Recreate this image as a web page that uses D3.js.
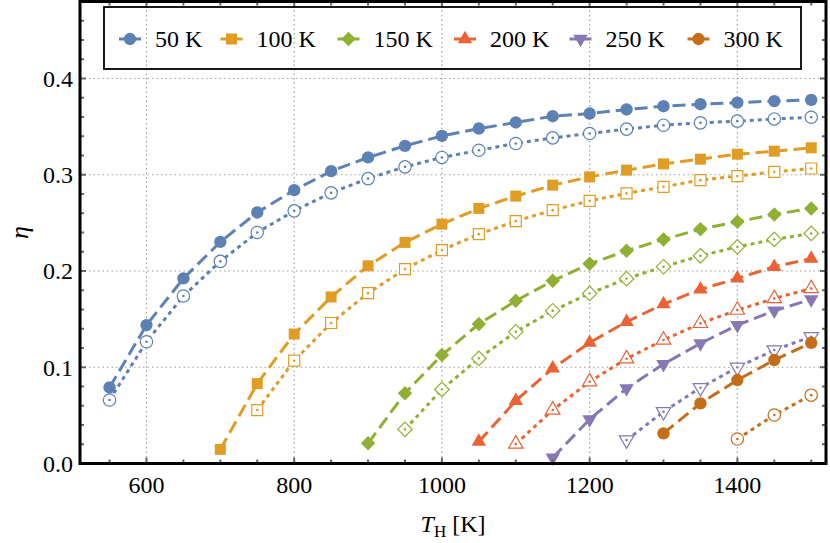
<!DOCTYPE html>
<meta charset="utf-8">
<script src="https://d3js.org/d3.v7.min.js"></script>
<style>
  body { margin: 0; background: #fff; }
  svg text { font-family: "Liberation Serif", "DejaVu Serif", "Times New Roman", Times, serif; }
</style>
<div id="my_dataviz"></div>
<script>

// hot reservoir temperatures (K)
var tHot = [550, 600, 650, 700, 750, 800, 850, 900, 950, 1000,
            1050, 1100, 1150, 1200, 1250, 1300, 1350, 1400, 1450, 1500];

var seriesNames = ["50 K", "100 K", "150 K", "200 K", "250 K", "300 K"];

// filled markers, dashed lines
var eta50  = [0.079, 0.1438, 0.1923, 0.2303, 0.2608, 0.284, 0.3037, 0.318, 0.330, 0.3404,
              0.348, 0.3543, 0.3608, 0.3636, 0.3678, 0.3712, 0.3733, 0.3750, 0.3765, 0.3778];
var eta100 = [null, null, null, 0.0147, 0.083, 0.1345, 0.173, 0.2054, 0.2297, 0.2487,
              0.265, 0.2778, 0.2892, 0.2978, 0.3048, 0.3113, 0.3162, 0.3214, 0.3245, 0.328];
var eta150 = [null, null, null, null, null, null, null, 0.021, 0.073, 0.1127,
              0.1449, 0.169, 0.1898, 0.2075, 0.221, 0.2328, 0.2435, 0.2511, 0.2588, 0.265];
var eta200 = [null, null, null, null, null, null, null, null, null, null,
              0.0227, 0.0652, 0.0988, 0.1255, 0.1473, 0.1656, 0.1809, 0.1923, 0.2044, 0.213];
var eta250 = [null, null, null, null, null, null, null, null, null, null,
              null, null, 0.006, 0.0459, 0.078, 0.1033, 0.1248, 0.1438, 0.1587, 0.1705];
var eta300 = [null, null, null, null, null, null, null, null, null, null,
              null, null, null, null, null, 0.0313, 0.0625, 0.0867, 0.1075, 0.1254];

// open markers, dotted lines
var eta50o  = [0.066, 0.1265, 0.174, 0.210, 0.240, 0.2625, 0.2812, 0.296, 0.3082, 0.318,
               0.3255, 0.3325, 0.3383, 0.3429, 0.3474, 0.3515, 0.3539, 0.3557, 0.358, 0.3597];
var eta100o = [null, null, null, null, 0.0555, 0.1068, 0.146, 0.177, 0.202, 0.2217,
               0.2383, 0.2518, 0.2632, 0.2729, 0.2806, 0.2875, 0.2944, 0.2986, 0.303, 0.3065];
var eta150o = [null, null, null, null, null, null, null, null, 0.0355, 0.077,
               0.1092, 0.1369, 0.1587, 0.1767, 0.192, 0.2044, 0.2158, 0.2251, 0.2328, 0.239];
var eta200o = [null, null, null, null, null, null, null, null, null, null,
               null, 0.0203, 0.0556, 0.085, 0.1089, 0.1283, 0.1456, 0.1594, 0.1715, 0.1819];
var eta250o = [null, null, null, null, null, null, null, null, null, null,
               null, null, null, null, 0.0244, 0.0538, 0.0787, 0.0999, 0.1179, 0.1317];
var eta300o = [null, null, null, null, null, null, null, null, null, null,
               null, null, null, null, null, null, null, 0.0254, 0.0504, 0.071];

var xTicks = [600, 800, 1000, 1200, 1400];
var yTicks = [0.0, 0.1, 0.2, 0.3, 0.4];

var filledSeries = [eta50, eta100, eta150, eta200, eta250, eta300];
var openSeries = [eta50o, eta100o, eta150o, eta200o, eta250o, eta300o];

var colors = ["#5E81B5", "#E19C24", "#8FB032", "#EB6235", "#8778B3", "#C56E1A"];
var serif = "'Liberation Serif', 'DejaVu Serif', serif";

// frame
var margin = {top: 1.5, right: 4, bottom: 79.5, left: 80},
    W = 830, H = 543,
    width = W - margin.left - margin.right,
    height = H - margin.top - margin.bottom;

var root = d3.select("#my_dataviz")
  .append("svg")
    .attr("width", W)
    .attr("height", H)
    .attr("font-family", serif);
var svg = root.append("g")
    .attr("transform", "translate(" + margin.left + "," + margin.top + ")");

var x = d3.scaleLinear().domain([510, 1520]).range([0, width]);
var y = d3.scaleLinear().domain([0, 0.48]).range([height, 0]);

// grid lines
svg.append("g").selectAll("line")
  .data(xTicks)
  .join("line")
    .attr("x1", d => x(d)).attr("x2", d => x(d))
    .attr("y1", 0).attr("y2", height)
    .attr("stroke", "#a0a0a0").attr("stroke-width", 1.2)
    .attr("stroke-dasharray", "1.5,3");
svg.append("g").selectAll("line")
  .data(yTicks.slice(1))
  .join("line")
    .attr("x1", 0).attr("x2", width)
    .attr("y1", d => y(d)).attr("y2", d => y(d))
    .attr("stroke", "#a0a0a0").attr("stroke-width", 1.2)
    .attr("stroke-dasharray", "1.5,3");

// marker shapes
function markerPath(k) {
  if (k == 0) return d3.symbol(d3.symbolCircle, 120)();
  if (k == 1) return d3.symbol(d3.symbolSquare, 121)();
  if (k == 2) return d3.symbol(d3.symbolSquare, 105)();
  if (k == 3 || k == 4) return d3.symbol(d3.symbolTriangle, 90)();
  return d3.symbol(d3.symbolCircle, 120)();
}
function markerRot(k) {
  if (k == 2) return 45;
  if (k == 4) return 180;
  return 0;
}

var line = d3.line()
  .defined(d => d.v != null)
  .x(d => x(d.t))
  .y(d => y(d.v));

function pts(arr) {
  return arr.map((v, i) => ({t: tHot[i], v: v}));
}

// open (dotted) series first, then filled (dashed)
openSeries.forEach(function(arr, k) {
  var data = pts(arr);
  svg.append("path")
    .datum(data)
    .attr("d", line)
    .attr("fill", "none")
    .attr("stroke", colors[k])
    .attr("stroke-width", 3)
    .attr("stroke-dasharray", "4,4");
  var g = svg.append("g").selectAll("g")
    .data(data.filter(d => d.v != null))
    .join("g")
      .attr("transform", d => "translate(" + x(d.t) + "," + y(d.v) + ") rotate(" + markerRot(k) + ")");
  g.append("path")
    .attr("d", markerPath(k))
    .attr("fill", "white")
    .attr("stroke", colors[k])
    .attr("stroke-width", 1.2);
  g.append("circle")
    .attr("r", 1.3)
    .attr("fill", colors[k]);
});

filledSeries.forEach(function(arr, k) {
  var data = pts(arr);
  svg.append("path")
    .datum(data)
    .attr("d", line)
    .attr("fill", "none")
    .attr("stroke", colors[k])
    .attr("stroke-width", 3)
    .attr("stroke-dasharray", "13,6");
  svg.append("g").selectAll("path")
    .data(data.filter(d => d.v != null))
    .join("path")
      .attr("transform", d => "translate(" + x(d.t) + "," + y(d.v) + ") rotate(" + markerRot(k) + ")")
      .attr("d", markerPath(k))
      .attr("fill", colors[k]);
});

// ticks on all four sides, pointing inward
var xMinor = d3.range(550, 1520, 50);
var yMinor = d3.range(0.02, 0.48, 0.02);
var ticks = svg.append("g").attr("stroke", "#666").attr("stroke-width", 2);
xMinor.forEach(function(t) {
  var len = (t % 200 == 0) ? 6 : 4;
  ticks.append("line").attr("x1", x(t)).attr("x2", x(t)).attr("y1", height).attr("y2", height - len);
  ticks.append("line").attr("x1", x(t)).attr("x2", x(t)).attr("y1", 0).attr("y2", len);
});
yMinor.forEach(function(v) {
  var major = Math.abs(v * 10 - Math.round(v * 10)) < 1e-6;
  var len = major ? 6 : 4;
  ticks.append("line").attr("x1", 0).attr("x2", len).attr("y1", y(v)).attr("y2", y(v));
  ticks.append("line").attr("x1", width).attr("x2", width - len).attr("y1", y(v)).attr("y2", y(v));
});

// frame
svg.append("rect")
  .attr("x", 0).attr("y", 0)
  .attr("width", width).attr("height", height)
  .attr("fill", "none")
  .attr("stroke", "black")
  .attr("stroke-width", 3);

// tick labels
svg.append("g").selectAll("text")
  .data(xTicks)
  .join("text")
    .attr("x", d => x(d))
    .attr("y", height + 29)
    .attr("text-anchor", "middle")
    .attr("font-family", serif)
    .style("font-size", "24px")
    .text(d => d);
svg.append("g").selectAll("text")
  .data(yTicks)
  .join("text")
    .attr("x", -7)
    .attr("y", d => y(d))
    .attr("dy", "0.35em")
    .attr("text-anchor", "end")
    .attr("font-family", serif)
    .style("font-size", "24px")
    .text(d => d3.format(".1f")(d));

// axis labels
var xl = svg.append("text")
  .attr("x", width / 2)
  .attr("y", height + 68)
  .attr("text-anchor", "middle")
  .attr("font-family", serif)
  .style("font-size", "24px");
xl.append("tspan").style("font-style", "italic").text("T");
xl.append("tspan").attr("dy", 5).style("font-size", "17px").text("H");
xl.append("tspan").attr("dy", -5).text(" [K]");

svg.append("text")
  .attr("transform", "translate(" + (-60) + "," + (height / 2) + ") rotate(-90)")
  .attr("text-anchor", "middle")
  .attr("dy", "0.3em")
  .attr("font-family", serif)
  .style("font-size", "26px")
  .style("font-style", "italic")
  .text("η");

// legend
var lg = root.append("g");
lg.append("rect")
  .attr("x", 104).attr("y", 7)
  .attr("width", 697).attr("height", 62)
  .attr("fill", "none")
  .attr("stroke", "black")
  .attr("stroke-width", 1.8);
var legX = [130, 231.5, 348.5, 465, 580.5, 698.5];
seriesNames.forEach(function(name, k) {
  var item = lg.append("g").attr("transform", "translate(" + legX[k] + ",39)");
  item.append("line")
    .attr("x1", -11).attr("x2", 11)
    .attr("stroke", colors[k]).attr("stroke-width", 3);
  item.append("path")
    .attr("transform", "rotate(" + markerRot(k) + ")")
    .attr("d", markerPath(k))
    .attr("fill", colors[k]);
  item.append("text")
    .attr("x", 25)
    .attr("dy", "0.35em")
    .attr("font-family", serif)
    .style("font-size", "24px")
    .text(name);
});

</script>
